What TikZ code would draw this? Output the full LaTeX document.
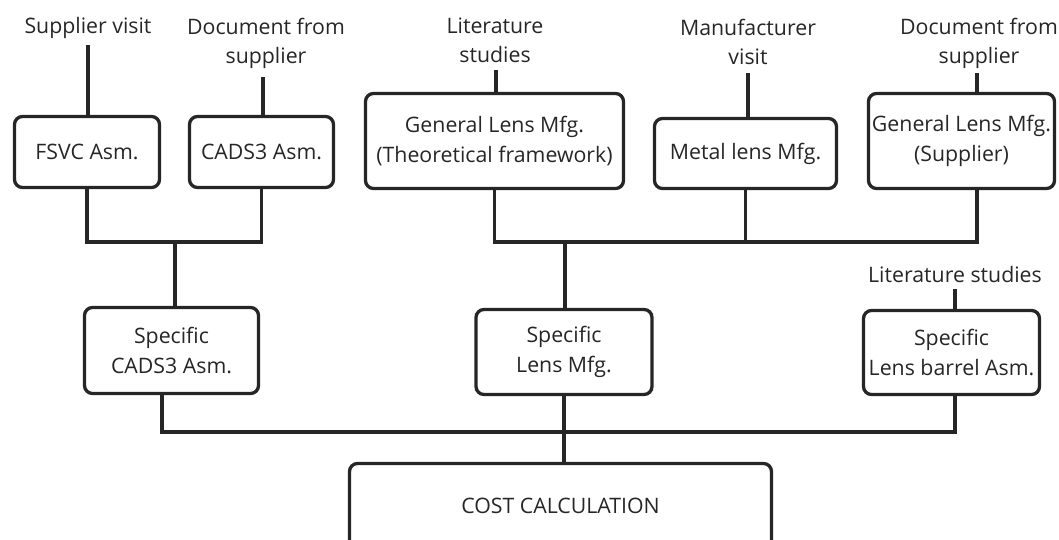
\documentclass[tikz,border=0pt]{standalone}
\usepackage{fontspec}
\setmainfont{Open Sans}
\usetikzlibrary{calc}
\definecolor{linec}{HTML}{262626}
\definecolor{textc}{HTML}{262626}
\newcommand\lblfont{\fontsize{21.3}{29.5}\selectfont}
\begin{document}
\begin{tikzpicture}[x=1pt,y=-1pt,
  box/.style={draw=linec, line width=3.3pt, rounded corners=8pt, align=center,
    inner sep=0pt, outer sep=0pt, text=textc, font=\lblfont},
  lab/.style={align=center, inner sep=0pt, text=textc, font=\lblfont, anchor=base},
  link/.style={draw=linec, line width=3.3pt}]
\useasboundingbox (0,0) rectangle (1059,540);
\clip (0,0) rectangle (1059,540);

% source labels (base = baseline of the last line)
\node[lab] (l1) at (88,34) {Supplier visit};
\node[lab] (l2) at (266,64) {Document from\\supplier};
\node[lab] (l3) at (495,63) {Literature\\studies};
\node[lab] (l4) at (748,65) {Manufacturer\\visit};
\node[lab] (l5) at (979,64) {Document from\\supplier};
\node[lab] (l6) at (955,282) {Literature studies};

% free ends of the source stems
\coordinate (t1) at (88,45);
\coordinate (t2) at (263,77);
\coordinate (t3) at (496,70);
\coordinate (t4) at (748,73);
\coordinate (t5) at (977,73);
\coordinate (t6) at (955,289);

% top row
\node[box, minimum width=145pt, minimum height=71pt] (fsvc)  at (87,152) {FSVC Asm.};
\node[box, minimum width=144pt, minimum height=71pt] (cads)  at (261.5,152) {CADS3 Asm.};
\node[box, minimum width=258pt, minimum height=95pt] (glt)   at (494.5,141) {General Lens Mfg.\\(Theoretical framework)};
\node[box, minimum width=182pt, minimum height=70pt] (metal) at (745.5,153.5) {Metal lens Mfg.};
\node[box, minimum width=186pt, minimum height=95pt] (gls)   at (961.5,141) {General Lens Mfg.\\(Supplier)};

% middle row
\node[box, minimum width=174pt, minimum height=86pt] (scads)   at (171.5,350.5) {Specific\\CADS3 Asm.};
\node[box, minimum width=176pt, minimum height=85pt] (slens)   at (564,352) {Specific\\Lens Mfg.};
\node[box, minimum width=176pt, minimum height=84pt] (sbarrel) at (951.5,352.5) {Specific\\Lens barrel Asm.};

% result
\node[box, minimum width=422pt, minimum height=116.5pt] (cost) at (560.5,521.75) {};
\node[lab, anchor=center] (costtxt) at (560.5,506) {COST CALCULATION};

% stems from the sources
\draw[link] (t1) -- (t1 |- fsvc.north);
\draw[link] (t2) -- (t2 |- cads.north);
\draw[link] (t3) -- (t3 |- glt.north);
\draw[link] (t4) -- (t4 |- metal.north);
\draw[link] (t5) -- (t5 |- gls.north);
\draw[link] (t6) -- (t6 |- sbarrel.north);

% joins
\coordinate (m1) at (175,242);
\coordinate (m2) at (565,242);
\coordinate (gx) at (977,242);
\coordinate (sbx) at (162,432);
\coordinate (bbx) at (955,432);

\draw[link] (fsvc.south) |- (cads.south |- m1) -- (cads.south);
\draw[link] (m1) -- (m1 |- scads.north);

\draw[link] (glt.south) |- (gx) -- (gx |- gls.south);
\draw[link] (metal.south) -- (metal.south |- m2);
\draw[link] (m2) -- (m2 |- slens.north);

\draw[link] (sbx |- scads.south) -- (sbx) -- (bbx) -- (bbx |- sbarrel.south);
\draw[link] (slens.south) -- (slens.south |- cost.north);
\end{tikzpicture}
\end{document}
